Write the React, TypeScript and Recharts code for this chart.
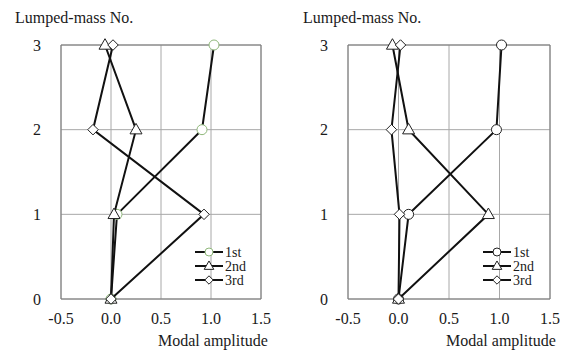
import React from "react";
import {
  ScatterChart,
  Scatter,
  XAxis,
  YAxis,
  CartesianGrid,
  ReferenceArea,
} from "recharts";

const massNo = [0, 1, 2, 3];
const xTicks = [-0.5, 0, 0.5, 1, 1.5];
const yTicks = [0, 1, 2, 3];
const modeNames = ["1st", "2nd", "3rd"];

// left panel
const leftFirst = [0, 0.06, 0.91, 1.03];
const leftSecond = [0, 0.03, 0.25, -0.06];
const leftThird = [0, 0.93, -0.18, 0.02];

// right panel
const rightFirst = [0, 0.1, 0.97, 1.02];
const rightSecond = [0, 0.89, 0.1, -0.06];
const rightThird = [0, 0.01, -0.07, 0.02];

const FONT = "'Liberation Serif', 'Times New Roman', serif";
const TEXT = "#1a1a1a";

const toPoints = (vals: number[]) => vals.map((v, i) => ({ x: v, y: massNo[i] }));

type Kind = "circle" | "triangle" | "diamond";

function marker(kind: Kind, cx: number, cy: number, s: number, stroke: string) {
  if (kind === "circle") {
    return <circle cx={cx} cy={cy} r={s} fill="#fff" stroke={stroke} strokeWidth={1} />;
  }
  if (kind === "triangle") {
    const h = s * 2.1;
    const w = s * 2.4;
    return (
      <polygon
        points={`${cx},${cy - h * 0.6} ${cx - w / 2},${cy + h * 0.4} ${cx + w / 2},${cy + h * 0.4}`}
        fill="#fff"
        stroke={stroke}
        strokeWidth={1}
      />
    );
  }
  const d = s * 1.05;
  return (
    <polygon
      points={`${cx},${cy - d} ${cx + d},${cy} ${cx},${cy + d} ${cx - d},${cy}`}
      fill="#fff"
      stroke={stroke}
      strokeWidth={1}
    />
  );
}

const kinds: Kind[] = ["circle", "triangle", "diamond"];

function ModeLegend({ strokes, left }: { strokes: string[]; left: number }) {
  return (
    <svg
      width={70}
      height={46}
      style={{ position: "absolute", left, top: 245, fontFamily: FONT, overflow: "visible" }}
    >
      {modeNames.map((n, i) => {
        const y = [7, 21, 35][i];
        return (
          <g key={n}>
            <line x1={0} x2={28} y1={y} y2={y} stroke="#111" strokeWidth={2} />
            {marker(kinds[i], 14, y, 4, strokes[i])}
            <text x={30} y={y + 5} fontSize={14} fill={TEXT}>
              {n}
            </text>
          </g>
        );
      })}
    </svg>
  );
}

function Panel({
  series,
  strokes,
  plotLeft,
  plotWidth,
}: {
  series: number[][];
  strokes: string[];
  plotLeft: number;
  plotWidth: number;
}) {
  return (
    <ScatterChart
      width={288}
      height={354}
      margin={{ top: 45, right: 288 - plotLeft - plotWidth, bottom: 25, left: 0 }}
    >
      <CartesianGrid stroke="#a8a8a8" strokeWidth={1} />
      <XAxis
        type="number"
        dataKey="x"
        domain={[-0.5, 1.5]}
        ticks={xTicks}
        tickFormatter={(v: number) => v.toFixed(1)}
        axisLine={false}
        tickLine={false}
        tickSize={0}
        tickMargin={14}
        height={30}
        tick={{ fontSize: 16, fill: TEXT, fontFamily: FONT }}
      />
      <YAxis
        type="number"
        dataKey="y"
        domain={[0, 3]}
        ticks={yTicks}
        axisLine={false}
        tickLine={false}
        tickSize={0}
        tickMargin={20}
        width={plotLeft}
        tick={{ fontSize: 16, fill: TEXT, fontFamily: FONT }}
      />
      <ReferenceArea x1={-0.5} x2={1.5} y1={0} y2={3} fill="none" stroke="#7a7a7a" strokeWidth={1} />
      {series.map((vals, i) => (
        <Scatter
          key={modeNames[i]}
          name={modeNames[i]}
          data={toPoints(vals)}
          line={{ stroke: "#111", strokeWidth: 2 }}
          lineType="joint"
          isAnimationActive={false}
          shape={(p: any) => marker(kinds[i], p.cx, p.cy, 5, strokes[i])}
        />
      ))}
    </ScatterChart>
  );
}

export default function App() {
  const label: React.CSSProperties = {
    position: "absolute",
    fontFamily: FONT,
    fontSize: 16,
    lineHeight: "16px",
    color: TEXT,
    whiteSpace: "nowrap",
  };
  const leftStrokes = ["#8fb87a", "#222", "#222"];
  const rightStrokes = ["#222", "#222", "#222"];
  return (
    <div style={{ position: "absolute", left: 0, top: 0, width: 576, height: 354, background: "#fff" }}>
      <div style={{ position: "absolute", left: 0, top: 0 }}>
        <Panel
          series={[leftFirst, leftSecond, leftThird]}
          strokes={leftStrokes}
          plotLeft={61}
          plotWidth={200}
        />
      </div>
      <div style={{ position: "absolute", left: 288, top: 0 }}>
        <Panel
          series={[rightFirst, rightSecond, rightThird]}
          strokes={rightStrokes}
          plotLeft={60}
          plotWidth={202}
        />
      </div>
      <ModeLegend strokes={leftStrokes} left={195} />
      <ModeLegend strokes={rightStrokes} left={483} />
      <div style={{ ...label, left: 15, top: 10 }}>Lumped-mass No.</div>
      <div style={{ ...label, left: 303, top: 10 }}>Lumped-mass No.</div>
      <div style={{ ...label, left: 158, top: 333 }}>Modal amplitude</div>
      <div style={{ ...label, left: 446, top: 333 }}>Modal amplitude</div>
    </div>
  );
}
